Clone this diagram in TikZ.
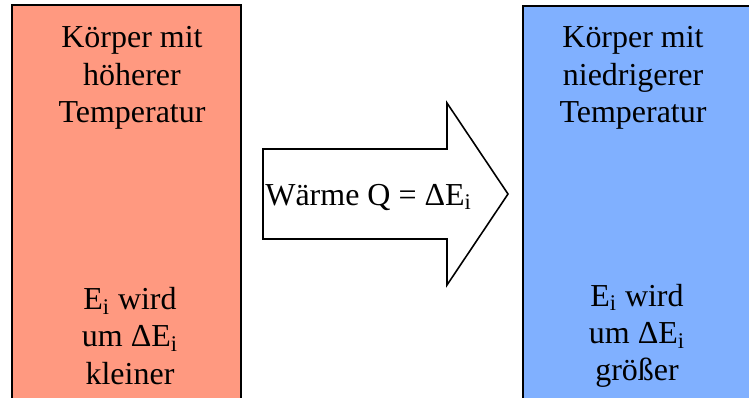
\documentclass[tikz,border=0pt]{standalone}
\usepackage{fontspec}
\setmainfont{Liberation Serif}
\usepackage{xcolor}
\usepackage{tikz}
\definecolor{hotred}{RGB}{255,153,128}
\definecolor{coldblue}{RGB}{128,176,255}
\tikzset{
  boxtext/.style={align=center,font=\fontsize{18.2}{21.2}\selectfont},
  arrowtext/.style={anchor=base west,inner sep=0pt,font=\fontsize{18.2}{21.2}\selectfont}
}

\begin{document}
\begin{tikzpicture}[x=0.02cm,y=-0.02cm]
  \clip (0,0) rectangle (749,397);
  % hot body
  \fill[hotred] (12,5) rectangle (241,420);
  \draw[line width=1.3pt] (12,5) rectangle (241,420);
  \node[boxtext] (hottop) at (132,78) {Körper mit\\höherer\\Temperatur};
  \node[boxtext] (hotbot) at (130,336) {E\textsubscript{i} wird\\um ΔE\textsubscript{i}\\kleiner};
  % cold body
  \fill[coldblue] (523,6) rectangle (780,420);
  \draw[line width=1.3pt] (523,6) rectangle (780,420);
  \node[boxtext] (coldtop) at (633,78) {Körper mit\\niedrigerer\\Temperatur};
  \node[boxtext] (coldbot) at (637,336) {E\textsubscript{i} wird\\um ΔE\textsubscript{i}\\größer};
  % heat flow
  \draw[fill=white,line width=0.9pt] (263,149) -- (447,149) -- (447,103) -- (508,194)
    -- (447,285) -- (447,239) -- (263,239) -- cycle;
  \node[arrowtext] (heat) at (265,205) {Wärme Q = ΔE\textsubscript{i}};
\end{tikzpicture}
\end{document}
